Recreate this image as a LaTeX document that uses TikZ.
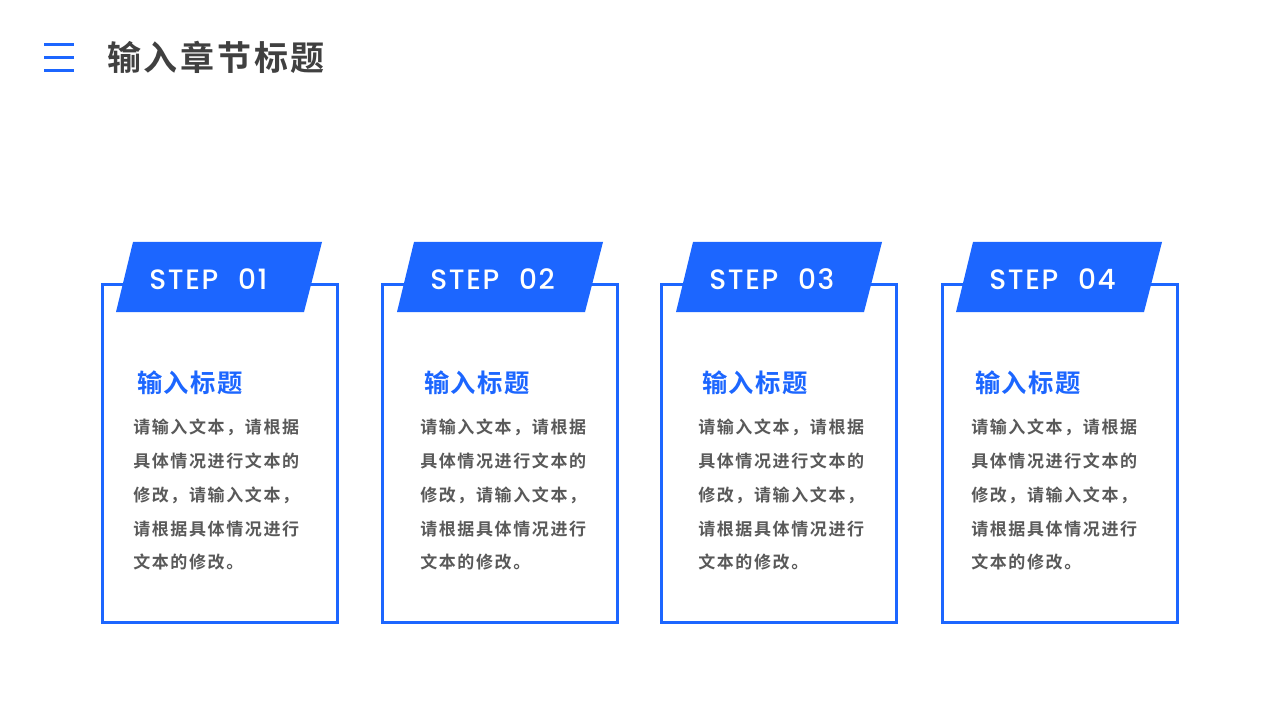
\documentclass[tikz,border=0pt]{standalone}
\usepackage{fontspec}
\setmainfont{Liberation Sans}
\newfontfamily\cjkbold[LetterSpace=9.5]{Noto Sans CJK SC Bold}
\newfontfamily\cjkhead[LetterSpace=5]{Noto Sans CJK SC Bold}
\newfontfamily\cjktitle[LetterSpace=8]{Noto Sans CJK SC Bold}
\newfontfamily\stepfont[LetterSpace=6,WordSpace=2.2]{Poppins Medium}
\definecolor{stepblue}{HTML}{1C66FF}
\definecolor{titlegray}{HTML}{404040}
\definecolor{bodygray}{HTML}{595959}
\tikzset{
  cardbox/.style={draw=stepblue,line width=2.25pt,fill=white},
  tabfill/.style={fill=stepblue},
  steplabel/.style={text=white,font=\stepfont\fontsize{21}{24}\selectfont,anchor=west,inner sep=0pt},
  headlabel/.style={text=stepblue,font=\cjkhead\fontsize{19}{20}\selectfont,anchor=west,inner sep=0pt},
  bodylabel/.style={text=bodygray,font=\cjkbold\fontsize{12.75}{25.3}\selectfont,anchor=north west,align=left,inner sep=0pt},
}
\begin{document}
\begin{tikzpicture}[x=0.75pt,y=-0.75pt]
  \useasboundingbox (0,0) rectangle (1280,720);
  % menu bars
  \coordinate (m1a) at (44,44.5);
  \coordinate (m1b) at (74,44.5);
  \coordinate (m2a) at (44,57.5);
  \coordinate (m2b) at (74,57.5);
  \coordinate (m3a) at (44,71);
  \coordinate (m3b) at (74,71);
  \draw[stepblue,line width=2.25pt] (m1a) -- (m1b);
  \draw[stepblue,line width=2.25pt] (m2a) -- (m2b);
  \draw[stepblue,line width=2.25pt] (m3a) -- (m3b);
  \node[anchor=west,inner sep=0pt,text=titlegray,font=\cjktitle\fontsize{25.5}{28}\selectfont] (title) at (107,57) {输入章节标题};
  % cards
  \foreach \i/\cx/\tx/\hx/\bx/\lab in {1/101/116/137/134/01,2/381/397/424/421/02,3/660/676/702/699/03,4/941/956/975/972/04}{
    \draw[cardbox] (\cx+1.5,284.5) rectangle (\cx+236.5,622.5);
    \fill[tabfill] (\tx,312) -- (\tx+17,242) -- (\tx+206,242) -- (\tx+188,312) -- cycle;
    \node[steplabel] (step\i) at (\tx+33,279) {STEP \lab};
    \node[headlabel] (head\i) at (\hx,383) {输入标题};
    \node[bodylabel] (body\i) at (\bx-1,419) {请输入文本，请根据\\具体情况进行文本的\\修改，请输入文本，\\请根据具体情况进行\\文本的修改。};
  }
\end{tikzpicture}
\end{document}
